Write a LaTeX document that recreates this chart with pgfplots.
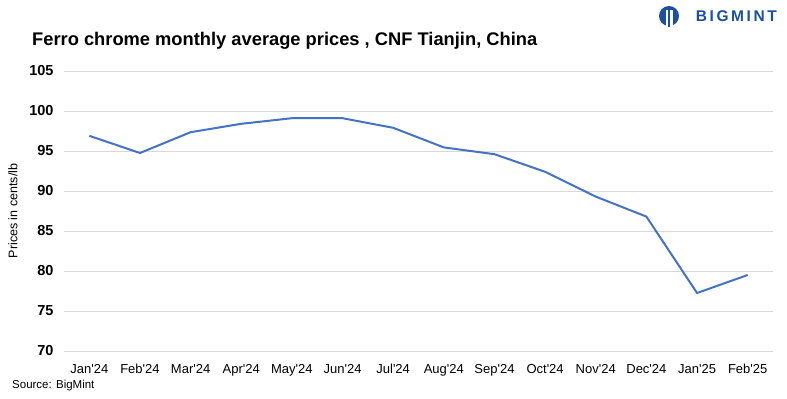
\documentclass[border=0pt]{standalone}
\usepackage{pgfplots}
\pgfplotsset{compat=1.18}
\usepackage{fontspec}
\setmainfont{Liberation Sans}
\definecolor{lineblue}{HTML}{4472C4}
\definecolor{gridgrey}{HTML}{D9D9D9}
\definecolor{logoblue}{HTML}{1B4FA0}
\newcommand{\q}{\textquotesingle}
\begin{document}
\begin{tikzpicture}
\fill[white] (0bp,0bp) rectangle (787bp,-399bp);
\node[anchor=west,font=\fontsize{18.3bp}{20bp}\selectfont\bfseries,inner sep=0pt] at (32bp,-41bp) {Ferro chrome monthly average prices , CNF Tianjin, China};
\node[anchor=west,font=\fontsize{11.5bp}{13bp}\selectfont,inner sep=0pt] at (12bp,-386bp) {Source: BigMint};
\node[anchor=east,font=\fontsize{15.5bp}{18bp}\selectfont\bfseries,text=logoblue,inner sep=0pt] at (777bp,-16bp) {B\,I\,G\,M\,I\,N\,T};
\fill[logoblue] (669bp,-16bp) circle (10bp);
\fill[white] (665.5bp,-10bp) rectangle (672.5bp,-26.5bp);
\fill[logoblue] (668bp,-10bp) rectangle (670bp,-26.5bp);
\node[anchor=center,rotate=90,font=\fontsize{12.5bp}{14bp}\selectfont,inner sep=0pt] at (13bp,-211bp) {Prices in cents/lb};
\begin{axis}[
  at={(64bp,-351bp)}, anchor=south west,
  scale only axis, width=709bp, height=280bp,
  xmin=-0.5, xmax=13.5, ymin=70, ymax=105,
  xtick={0,...,13},
  xticklabels={Jan\q24,Feb\q24,Mar\q24,Apr\q24,May\q24,Jun\q24,Jul\q24,Aug\q24,Sep\q24,Oct\q24,Nov\q24,Dec\q24,Jan\q25,Feb\q25},
  ytick={70,75,...,105},
  axis line style={draw=none},
  tick style={draw=none},
  ymajorgrids, grid style={gridgrey, line width=0.8pt},
  xticklabel style={font=\fontsize{13bp}{15bp}\selectfont, yshift=-10bp},
  yticklabel style={font=\fontsize{14.5bp}{16bp}\selectfont\bfseries, xshift=-7bp},
  /pgf/number format/assume math mode=true,
  clip=false,
]
\addplot[lineblue, line width=2pt] coordinates {
(0,96.9) (1,94.75) (2,97.35) (3,98.4) (4,99.1) (5,99.1) (6,97.9) (7,95.45) (8,94.6) (9,92.4) (10,89.3) (11,86.8) (12,77.25) (13,79.5)
};
\end{axis}
\end{tikzpicture}
\end{document}
